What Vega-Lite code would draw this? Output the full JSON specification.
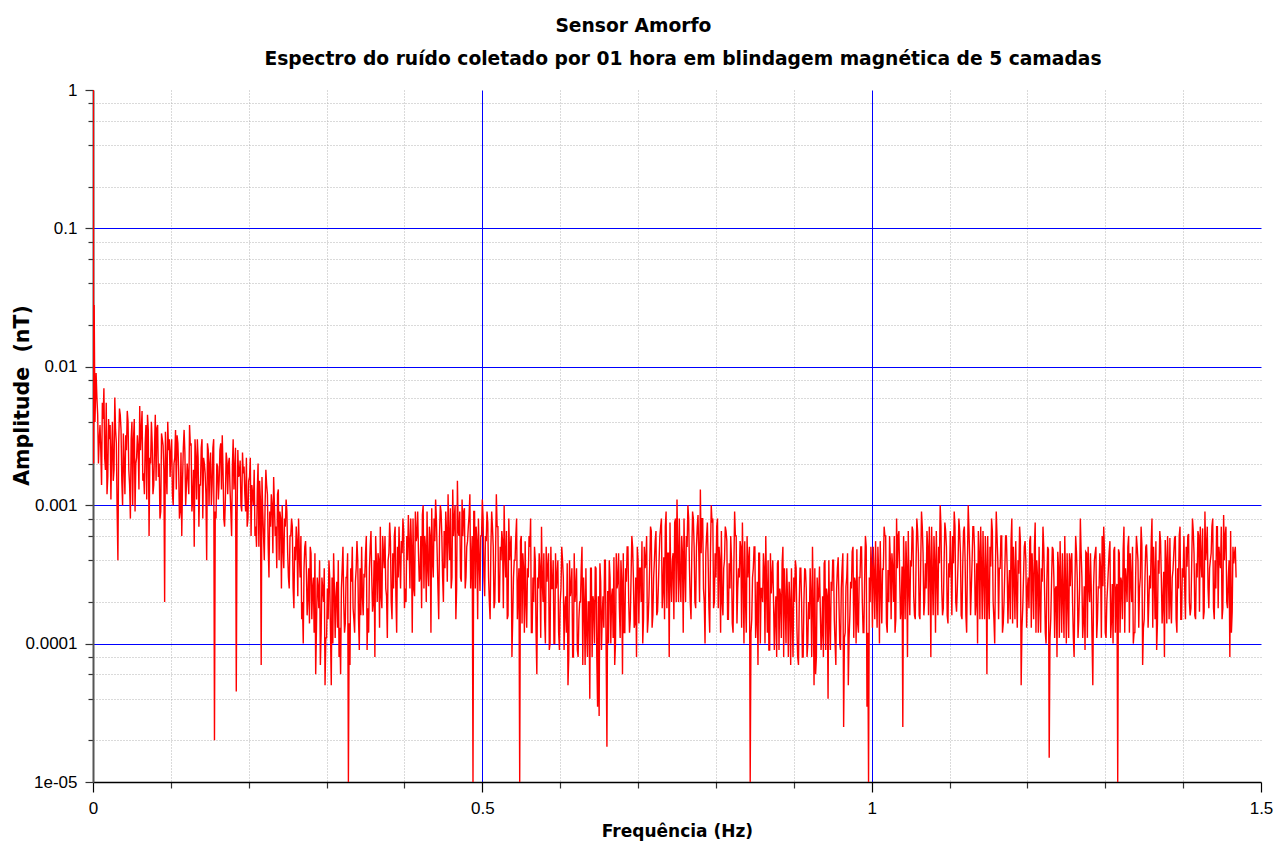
{
  "$schema": "https://vega.github.io/schema/vega-lite/v6.json",
  "width": 1168,
  "height": 692,
  "autosize": "none",
  "padding": {"left": 93, "top": 90, "right": 15, "bottom": 63},
  "background": "white",
  "config": {"view": {"stroke": null}},
  "title": {
    "text": "Sensor Amorfo\u00a0\u00a0\u00a0\u00a0\u00a0\u00a0\u00a0\u00a0\u00a0\u00a0\u00a0\u00a0\u00a0\u2800",
    "subtitle": "Espectro do ruído coletado por 01 hora em blindagem magnética de 5 camadas",
    "anchor": "middle",
    "frame": "group",
    "dx": 6,
    "offset": 12,
    "font": "DejaVu Sans",
    "fontSize": 18.7,
    "fontWeight": "bold",
    "color": "#000000",
    "subtitleFont": "DejaVu Sans",
    "subtitleFontSize": 18.7,
    "subtitleFontWeight": "bold",
    "subtitleColor": "#000000",
    "subtitlePadding": 15
  },
  "data": {"values": [
    {"f":0.0004,"a":1.0},{"f":0.0008,"a":0.002},{"f":0.0015,"a":0.028},{"f":0.0025,"a":0.004},
    {"f":0.004,"a":90e-4},{"f":0.008,"a":30e-4},{"f":0.012,"a":55e-4},{"f":0.016,"a":18e-4},{"f":0.02,"a":42e-4},{"f":0.024,"a":25e-4},{"f":0.028,"a":60e-4},{"f":0.032,"a":4e-4},{"f":0.036,"a":35e-4},{"f":0.04,"a":20e-4},{"f":0.044,"a":48e-4},{"f":0.048,"a":8e-4},{"f":0.052,"a":30e-4},{"f":0.056,"a":22e-4},{"f":0.06,"a":52e-4},{"f":0.064,"a":15e-4},{"f":0.068,"a":38e-4},{"f":0.072,"a":6e-4},{"f":0.076,"a":28e-4},{"f":0.08,"a":45e-4},{"f":0.084,"a":16e-4},{"f":0.088,"a":33e-4},{"f":0.092,"a":2e-4},{"f":0.096,"a":40e-4},{"f":0.1,"a":24e-4},
    {"f":0.104,"a":20e-4},{"f":0.108,"a":32e-4},{"f":0.112,"a":9e-4},{"f":0.116,"a":26e-4},{"f":0.12,"a":14e-4},{"f":0.124,"a":38e-4},{"f":0.128,"a":11e-4},{"f":0.132,"a":22e-4},{"f":0.136,"a":7e-4},{"f":0.14,"a":30e-4},{"f":0.144,"a":17e-4},{"f":0.148,"a":25e-4},{"f":0.152,"a":10e-4},{"f":0.156,"a":0.2e-4},{"f":0.16,"a":19e-4},{"f":0.164,"a":28e-4},{"f":0.168,"a":8e-4},{"f":0.172,"a":21e-4},{"f":0.176,"a":13e-4},{"f":0.18,"a":30e-4},{"f":0.184,"a":0.45e-4},{"f":0.188,"a":17e-4},{"f":0.192,"a":24e-4},{"f":0.196,"a":9e-4},{"f":0.2,"a":15e-4},
    {"f":0.204,"a":14e-4},{"f":0.208,"a":6e-4},{"f":0.212,"a":20e-4},{"f":0.216,"a":0.7e-4},{"f":0.22,"a":4e-4},{"f":0.224,"a":12e-4},{"f":0.228,"a":7e-4},{"f":0.232,"a":16e-4},{"f":0.236,"a":3.5e-4},{"f":0.24,"a":9e-4},{"f":0.244,"a":5e-4},{"f":0.248,"a":11e-4},{"f":0.252,"a":2.5e-4},{"f":0.256,"a":7e-4},{"f":0.26,"a":4e-4},{"f":0.264,"a":8e-4},{"f":0.268,"a":1.5e-4},{"f":0.272,"a":5e-4},{"f":0.276,"a":2.2e-4},{"f":0.28,"a":4.5e-4},{"f":0.284,"a":1.2e-4},{"f":0.288,"a":3e-4},{"f":0.292,"a":0.7e-4},{"f":0.296,"a":2e-4},{"f":0.3,"a":1.1e-4},
    {"f":0.304,"a":3e-4},{"f":0.308,"a":1.0e-4},{"f":0.312,"a":2.2e-4},{"f":0.316,"a":0.8e-4},{"f":0.32,"a":3.5e-4},{"f":0.324,"a":1.4e-4},{"f":0.328,"a":0.1e-4},{"f":0.332,"a":2.8e-4},{"f":0.336,"a":1.2e-4},{"f":0.34,"a":4e-4},{"f":0.344,"a":1.6e-4},{"f":0.348,"a":3.2e-4},{"f":0.352,"a":0.9e-4},{"f":0.356,"a":5e-4},{"f":0.36,"a":2e-4},{"f":0.364,"a":3.8e-4},{"f":0.368,"a":1.3e-4},{"f":0.372,"a":6e-4},{"f":0.376,"a":2.5e-4},{"f":0.38,"a":4.5e-4},{"f":0.384,"a":1.5e-4},{"f":0.388,"a":7e-4},{"f":0.392,"a":3e-4},{"f":0.396,"a":5.5e-4},{"f":0.4,"a":1.8e-4},
    {"f":0.404,"a":4e-4},{"f":0.408,"a":8e-4},{"f":0.412,"a":2.5e-4},{"f":0.416,"a":6e-4},{"f":0.42,"a":3e-4},{"f":0.424,"a":10e-4},{"f":0.428,"a":2e-4},{"f":0.432,"a":7e-4},{"f":0.436,"a":4e-4},{"f":0.44,"a":11e-4},{"f":0.444,"a":1.5e-4},{"f":0.448,"a":6e-4},{"f":0.452,"a":3.5e-4},{"f":0.456,"a":12e-4},{"f":0.46,"a":2.5e-4},{"f":0.464,"a":8e-4},{"f":0.468,"a":15e-4},{"f":0.472,"a":3e-4},{"f":0.476,"a":9e-4},{"f":0.48,"a":5e-4},{"f":0.484,"a":12e-4},{"f":0.488,"a":0.1e-4},{"f":0.492,"a":7e-4},{"f":0.496,"a":4e-4},{"f":0.5,"a":11e-4},
    {"f":0.504,"a":6e-4},{"f":0.508,"a":3e-4},{"f":0.512,"a":9e-4},{"f":0.516,"a":2e-4},{"f":0.52,"a":7e-4},{"f":0.524,"a":4e-4},{"f":0.528,"a":10e-4},{"f":0.532,"a":1.5e-4},{"f":0.536,"a":5e-4},{"f":0.54,"a":3e-4},{"f":0.544,"a":8e-4},{"f":0.548,"a":0.1e-4},{"f":0.552,"a":4.5e-4},{"f":0.556,"a":2e-4},{"f":0.56,"a":6e-4},{"f":0.564,"a":1.2e-4},{"f":0.568,"a":4e-4},{"f":0.572,"a":2.5e-4},{"f":0.576,"a":7e-4},{"f":0.58,"a":1.5e-4},{"f":0.584,"a":3.5e-4},{"f":0.588,"a":5e-4},{"f":0.592,"a":1e-4},{"f":0.596,"a":3e-4},{"f":0.6,"a":2e-4},
    {"f":0.604,"a":3e-4},{"f":0.608,"a":1.2e-4},{"f":0.612,"a":4e-4},{"f":0.616,"a":0.8e-4},{"f":0.62,"a":2.5e-4},{"f":0.624,"a":1.5e-4},{"f":0.628,"a":5e-4},{"f":0.632,"a":0.7e-4},{"f":0.636,"a":2e-4},{"f":0.64,"a":3.5e-4},{"f":0.644,"a":1e-4},{"f":0.648,"a":0.35e-4},{"f":0.652,"a":2.8e-4},{"f":0.656,"a":1.3e-4},{"f":0.66,"a":0.18e-4},{"f":0.664,"a":3e-4},{"f":0.668,"a":1.1e-4},{"f":0.672,"a":4.5e-4},{"f":0.676,"a":1.8e-4},{"f":0.68,"a":0.6e-4},{"f":0.684,"a":3.5e-4},{"f":0.688,"a":2e-4},{"f":0.692,"a":6e-4},{"f":0.696,"a":1.4e-4},{"f":0.7,"a":4e-4},
    {"f":0.704,"a":2e-4},{"f":0.708,"a":5e-4},{"f":0.712,"a":1.2e-4},{"f":0.716,"a":7e-4},{"f":0.72,"a":3e-4},{"f":0.724,"a":1.6e-4},{"f":0.728,"a":6e-4},{"f":0.732,"a":2.5e-4},{"f":0.736,"a":9e-4},{"f":0.74,"a":0.8e-4},{"f":0.744,"a":4e-4},{"f":0.748,"a":8e-4},{"f":0.752,"a":2e-4},{"f":0.756,"a":6e-4},{"f":0.76,"a":3.5e-4},{"f":0.764,"a":10e-4},{"f":0.768,"a":1.5e-4},{"f":0.772,"a":5e-4},{"f":0.776,"a":7e-4},{"f":0.78,"a":13e-4},{"f":0.784,"a":2.5e-4},{"f":0.788,"a":6e-4},{"f":0.792,"a":1.2e-4},{"f":0.796,"a":8e-4},{"f":0.8,"a":3e-4},
    {"f":0.804,"a":5e-4},{"f":0.808,"a":2e-4},{"f":0.812,"a":7e-4},{"f":0.816,"a":1.5e-4},{"f":0.82,"a":4e-4},{"f":0.824,"a":9e-4},{"f":0.828,"a":2.5e-4},{"f":0.832,"a":5e-4},{"f":0.836,"a":1e-4},{"f":0.84,"a":6e-4},{"f":0.844,"a":0.1e-4},{"f":0.848,"a":3.5e-4},{"f":0.852,"a":1.5e-4},{"f":0.856,"a":4.5e-4},{"f":0.86,"a":2e-4},{"f":0.864,"a":6e-4},{"f":0.868,"a":0.9e-4},{"f":0.872,"a":3e-4},{"f":0.876,"a":1.6e-4},{"f":0.88,"a":4e-4},{"f":0.884,"a":1.1e-4},{"f":0.888,"a":3.5e-4},{"f":0.892,"a":2e-4},{"f":0.896,"a":0.7e-4},{"f":0.9,"a":3e-4},
    {"f":0.904,"a":1.3e-4},{"f":0.908,"a":3.5e-4},{"f":0.912,"a":0.8e-4},{"f":0.916,"a":2.5e-4},{"f":0.92,"a":1.5e-4},{"f":0.924,"a":5e-4},{"f":0.928,"a":0.6e-4},{"f":0.932,"a":2.2e-4},{"f":0.936,"a":1.2e-4},{"f":0.94,"a":4e-4},{"f":0.944,"a":0.4e-4},{"f":0.948,"a":2.8e-4},{"f":0.952,"a":1.5e-4},{"f":0.956,"a":3.5e-4},{"f":0.96,"a":0.9e-4},{"f":0.964,"a":0.25e-4},{"f":0.968,"a":3e-4},{"f":0.972,"a":1.6e-4},{"f":0.976,"a":5e-4},{"f":0.98,"a":1e-4},{"f":0.984,"a":3e-4},{"f":0.988,"a":2e-4},{"f":0.992,"a":6e-4},{"f":0.996,"a":0.1e-4},{"f":1.0,"a":3.5e-4},
    {"f":1.004,"a":1.5e-4},{"f":1.008,"a":5e-4},{"f":1.012,"a":2.5e-4},{"f":1.016,"a":7e-4},{"f":1.02,"a":1.2e-4},{"f":1.024,"a":4e-4},{"f":1.028,"a":2e-4},{"f":1.032,"a":8e-4},{"f":1.036,"a":3e-4},{"f":1.04,"a":0.25e-4},{"f":1.044,"a":5.5e-4},{"f":1.048,"a":2.5e-4},{"f":1.052,"a":7e-4},{"f":1.056,"a":1.5e-4},{"f":1.06,"a":4.5e-4},{"f":1.064,"a":9e-4},{"f":1.068,"a":2e-4},{"f":1.072,"a":5e-4},{"f":1.076,"a":0.8e-4},{"f":1.08,"a":6e-4},{"f":1.084,"a":3e-4},{"f":1.088,"a":10e-4},{"f":1.092,"a":1.8e-4},{"f":1.096,"a":5e-4},{"f":1.1,"a":3e-4},
    {"f":1.104,"a":6e-4},{"f":1.108,"a":2e-4},{"f":1.112,"a":8e-4},{"f":1.116,"a":1.5e-4},{"f":1.12,"a":4e-4},{"f":1.124,"a":10e-4},{"f":1.128,"a":2.5e-4},{"f":1.132,"a":5e-4},{"f":1.136,"a":1e-4},{"f":1.14,"a":7e-4},{"f":1.144,"a":3e-4},{"f":1.148,"a":0.6e-4},{"f":1.152,"a":5e-4},{"f":1.156,"a":2e-4},{"f":1.16,"a":9e-4},{"f":1.164,"a":3.5e-4},{"f":1.168,"a":1.2e-4},{"f":1.172,"a":6e-4},{"f":1.176,"a":2.5e-4},{"f":1.18,"a":8e-4},{"f":1.184,"a":1.5e-4},{"f":1.188,"a":4e-4},{"f":1.192,"a":0.5e-4},{"f":1.196,"a":5e-4},{"f":1.2,"a":2.5e-4},
    {"f":1.204,"a":6e-4},{"f":1.208,"a":1.5e-4},{"f":1.212,"a":4e-4},{"f":1.216,"a":2e-4},{"f":1.22,"a":7e-4},{"f":1.224,"a":1e-4},{"f":1.228,"a":0.15e-4},{"f":1.232,"a":5e-4},{"f":1.236,"a":2.5e-4},{"f":1.24,"a":3.5e-4},{"f":1.244,"a":1.2e-4},{"f":1.248,"a":6e-4},{"f":1.252,"a":2e-4},{"f":1.256,"a":4e-4},{"f":1.26,"a":0.8e-4},{"f":1.264,"a":3e-4},{"f":1.268,"a":8e-4},{"f":1.272,"a":1.5e-4},{"f":1.276,"a":4.5e-4},{"f":1.28,"a":2e-4},{"f":1.284,"a":0.5e-4},{"f":1.288,"a":5e-4},{"f":1.292,"a":2.5e-4},{"f":1.296,"a":6e-4},{"f":1.3,"a":1.2e-4},
    {"f":1.304,"a":3.5e-4},{"f":1.308,"a":1.5e-4},{"f":1.312,"a":5e-4},{"f":1.316,"a":0.1e-4},{"f":1.32,"a":3e-4},{"f":1.324,"a":7e-4},{"f":1.328,"a":2e-4},{"f":1.332,"a":4.5e-4},{"f":1.336,"a":1e-4},{"f":1.34,"a":6e-4},{"f":1.344,"a":2.5e-4},{"f":1.348,"a":0.7e-4},{"f":1.352,"a":5e-4},{"f":1.356,"a":2e-4},{"f":1.36,"a":8e-4},{"f":1.364,"a":1.5e-4},{"f":1.368,"a":4e-4},{"f":1.372,"a":3e-4},{"f":1.376,"a":0.8e-4},{"f":1.38,"a":6e-4},{"f":1.384,"a":2e-4},{"f":1.388,"a":4.5e-4},{"f":1.392,"a":1.2e-4},{"f":1.396,"a":7e-4},{"f":1.4,"a":3e-4},
    {"f":1.404,"a":5e-4},{"f":1.408,"a":2e-4},{"f":1.412,"a":8e-4},{"f":1.416,"a":1.5e-4},{"f":1.42,"a":6e-4},{"f":1.424,"a":3e-4},{"f":1.428,"a":9e-4},{"f":1.432,"a":2.5e-4},{"f":1.436,"a":4.5e-4},{"f":1.44,"a":1.5e-4},{"f":1.444,"a":7e-4},{"f":1.448,"a":3.5e-4},{"f":1.452,"a":8.5e-4},{"f":1.456,"a":2e-4},{"f":1.46,"a":0.8e-4},{"f":1.464,"a":5e-4},{"f":1.468,"a":3e-4},
    {"f":0.006,"a":45e-4},{"f":0.01,"a":25e-4},{"f":0.014,"a":70e-4},{"f":0.018,"a":12e-4},{"f":0.022,"a":38e-4},{"f":0.026,"a":15e-4},{"f":0.03,"a":28e-4},{"f":0.034,"a":50e-4},{"f":0.038,"a":10e-4},{"f":0.042,"a":32e-4},{"f":0.046,"a":18e-4},{"f":0.05,"a":40e-4},{"f":0.054,"a":9e-4},{"f":0.058,"a":26e-4},{"f":0.062,"a":35e-4},{"f":0.066,"a":12e-4},{"f":0.07,"a":45e-4},{"f":0.074,"a":20e-4},{"f":0.078,"a":14e-4},{"f":0.082,"a":36e-4},{"f":0.086,"a":8e-4},{"f":0.09,"a":27e-4},{"f":0.094,"a":18e-4},{"f":0.098,"a":30e-4},
    {"f":0.102,"a":12e-4},{"f":0.106,"a":35e-4},{"f":0.11,"a":18e-4},{"f":0.114,"a":6e-4},{"f":0.118,"a":24e-4},{"f":0.122,"a":16e-4},{"f":0.126,"a":28e-4},{"f":0.13,"a":5e-4},{"f":0.134,"a":30e-4},{"f":0.138,"a":14e-4},{"f":0.142,"a":22e-4},{"f":0.146,"a":4e-4},{"f":0.15,"a":20e-4},{"f":0.154,"a":26e-4},{"f":0.158,"a":8e-4},{"f":0.162,"a":15e-4},{"f":0.166,"a":32e-4},{"f":0.17,"a":11e-4},{"f":0.174,"a":20e-4},{"f":0.178,"a":6e-4},{"f":0.182,"a":18e-4},{"f":0.186,"a":25e-4},{"f":0.19,"a":10e-4},{"f":0.194,"a":19e-4},{"f":0.198,"a":7e-4},
    {"f":0.202,"a":22e-4},{"f":0.206,"a":10e-4},{"f":0.21,"a":5e-4},{"f":0.214,"a":15e-4},{"f":0.218,"a":9e-4},{"f":0.222,"a":18e-4},{"f":0.226,"a":3e-4},{"f":0.23,"a":10e-4},{"f":0.234,"a":6e-4},{"f":0.238,"a":13e-4},{"f":0.242,"a":2.5e-4},{"f":0.246,"a":8e-4},{"f":0.25,"a":4.5e-4},{"f":0.254,"a":6e-4},{"f":0.258,"a":1.8e-4},{"f":0.262,"a":5.5e-4},{"f":0.266,"a":3e-4},{"f":0.27,"a":1e-4},{"f":0.274,"a":3.5e-4},{"f":0.278,"a":1.4e-4},{"f":0.282,"a":2.5e-4},{"f":0.286,"a":0.6e-4},{"f":0.29,"a":1.8e-4},{"f":0.294,"a":3e-4},{"f":0.298,"a":0.5e-4},
    {"f":0.302,"a":1.5e-4},{"f":0.306,"a":0.5e-4},{"f":0.31,"a":2.5e-4},{"f":0.314,"a":1.3e-4},{"f":0.318,"a":0.6e-4},{"f":0.322,"a":2e-4},{"f":0.326,"a":3e-4},{"f":0.33,"a":0.7e-4},{"f":0.334,"a":1.8e-4},{"f":0.338,"a":3.5e-4},{"f":0.342,"a":0.9e-4},{"f":0.346,"a":2.2e-4},{"f":0.35,"a":4.5e-4},{"f":0.354,"a":1.2e-4},{"f":0.358,"a":3e-4},{"f":0.362,"a":0.8e-4},{"f":0.366,"a":4.5e-4},{"f":0.37,"a":2.2e-4},{"f":0.374,"a":3.5e-4},{"f":0.378,"a":1.1e-4},{"f":0.382,"a":5.5e-4},{"f":0.386,"a":2.5e-4},{"f":0.39,"a":1.2e-4},{"f":0.394,"a":4e-4},{"f":0.398,"a":8e-4},
    {"f":0.402,"a":2e-4},{"f":0.406,"a":5.5e-4},{"f":0.41,"a":1.2e-4},{"f":0.414,"a":9e-4},{"f":0.418,"a":4.5e-4},{"f":0.422,"a":1.8e-4},{"f":0.426,"a":6e-4},{"f":0.43,"a":3.5e-4},{"f":0.434,"a":1.2e-4},{"f":0.438,"a":8e-4},{"f":0.442,"a":4.5e-4},{"f":0.446,"a":10e-4},{"f":0.45,"a":2e-4},{"f":0.454,"a":6.5e-4},{"f":0.458,"a":4e-4},{"f":0.462,"a":13e-4},{"f":0.466,"a":1.5e-4},{"f":0.47,"a":6e-4},{"f":0.474,"a":11e-4},{"f":0.478,"a":2.5e-4},{"f":0.482,"a":7e-4},{"f":0.486,"a":4e-4},{"f":0.49,"a":9e-4},{"f":0.494,"a":1.5e-4},{"f":0.498,"a":6e-4},
    {"f":0.502,"a":3e-4},{"f":0.506,"a":9e-4},{"f":0.51,"a":1.5e-4},{"f":0.514,"a":5e-4},{"f":0.518,"a":12e-4},{"f":0.522,"a":2e-4},{"f":0.526,"a":5.5e-4},{"f":0.53,"a":3e-4},{"f":0.534,"a":8e-4},{"f":0.538,"a":0.8e-4},{"f":0.542,"a":4e-4},{"f":0.546,"a":2.5e-4},{"f":0.55,"a":6e-4},{"f":0.554,"a":1.2e-4},{"f":0.558,"a":3.5e-4},{"f":0.562,"a":8e-4},{"f":0.566,"a":2e-4},{"f":0.57,"a":0.6e-4},{"f":0.574,"a":3.5e-4},{"f":0.578,"a":2e-4},{"f":0.582,"a":5e-4},{"f":0.586,"a":0.9e-4},{"f":0.59,"a":2.5e-4},{"f":0.594,"a":4.5e-4},{"f":0.598,"a":1.2e-4},
    {"f":0.602,"a":5e-4},{"f":0.606,"a":1.8e-4},{"f":0.61,"a":0.5e-4},{"f":0.614,"a":2.5e-4},{"f":0.618,"a":4.5e-4},{"f":0.622,"a":0.9e-4},{"f":0.626,"a":2e-4},{"f":0.63,"a":3e-4},{"f":0.634,"a":1.2e-4},{"f":0.638,"a":0.4e-4},{"f":0.642,"a":2.2e-4},{"f":0.646,"a":3.5e-4},{"f":0.65,"a":0.3e-4},{"f":0.654,"a":1.6e-4},{"f":0.658,"a":4e-4},{"f":0.662,"a":1e-4},{"f":0.666,"a":2.2e-4},{"f":0.67,"a":0.7e-4},{"f":0.674,"a":2.8e-4},{"f":0.678,"a":4e-4},{"f":0.682,"a":1.2e-4},{"f":0.686,"a":5e-4},{"f":0.69,"a":1.5e-4},{"f":0.694,"a":3e-4},{"f":0.698,"a":0.8e-4},
    {"f":0.702,"a":3.5e-4},{"f":0.706,"a":1e-4},{"f":0.71,"a":4e-4},{"f":0.714,"a":2.2e-4},{"f":0.718,"a":1.3e-4},{"f":0.722,"a":5.5e-4},{"f":0.726,"a":2.5e-4},{"f":0.73,"a":8e-4},{"f":0.734,"a":1.5e-4},{"f":0.738,"a":4.5e-4},{"f":0.742,"a":3e-4},{"f":0.746,"a":1.5e-4},{"f":0.75,"a":11e-4},{"f":0.754,"a":3e-4},{"f":0.758,"a":1.2e-4},{"f":0.762,"a":6e-4},{"f":0.766,"a":3.5e-4},{"f":0.77,"a":9e-4},{"f":0.774,"a":1.8e-4},{"f":0.778,"a":4.5e-4},{"f":0.782,"a":8e-4},{"f":0.786,"a":1e-4},{"f":0.79,"a":4e-4},{"f":0.794,"a":10e-4},{"f":0.798,"a":2e-4},
    {"f":0.802,"a":8e-4},{"f":0.806,"a":1.2e-4},{"f":0.81,"a":3.5e-4},{"f":0.814,"a":5.5e-4},{"f":0.818,"a":2.5e-4},{"f":0.822,"a":1.2e-4},{"f":0.826,"a":6e-4},{"f":0.83,"a":3e-4},{"f":0.834,"a":7.5e-4},{"f":0.838,"a":2e-4},{"f":0.842,"a":4e-4},{"f":0.846,"a":1.5e-4},{"f":0.85,"a":5e-4},{"f":0.854,"a":0.7e-4},{"f":0.858,"a":2.5e-4},{"f":0.862,"a":3.5e-4},{"f":0.866,"a":1.2e-4},{"f":0.87,"a":4.5e-4},{"f":0.874,"a":2e-4},{"f":0.878,"a":0.8e-4},{"f":0.882,"a":2.5e-4},{"f":0.886,"a":5e-4},{"f":0.89,"a":1e-4},{"f":0.894,"a":2.8e-4},{"f":0.898,"a":1.5e-4},
    {"f":0.902,"a":4e-4},{"f":0.906,"a":0.7e-4},{"f":0.91,"a":2e-4},{"f":0.914,"a":3.5e-4},{"f":0.918,"a":1e-4},{"f":0.922,"a":2.2e-4},{"f":0.926,"a":0.5e-4},{"f":0.93,"a":3e-4},{"f":0.934,"a":1.8e-4},{"f":0.938,"a":0.8e-4},{"f":0.942,"a":2.5e-4},{"f":0.946,"a":1.5e-4},{"f":0.95,"a":4e-4},{"f":0.954,"a":0.7e-4},{"f":0.958,"a":2e-4},{"f":0.962,"a":3.5e-4},{"f":0.966,"a":1.2e-4},{"f":0.97,"a":0.5e-4},{"f":0.974,"a":2.5e-4},{"f":0.978,"a":3e-4},{"f":0.982,"a":1.4e-4},{"f":0.986,"a":5e-4},{"f":0.99,"a":1.2e-4},{"f":0.994,"a":0.35e-4},{"f":0.998,"a":2e-4},
    {"f":1.002,"a":5e-4},{"f":1.006,"a":2.5e-4},{"f":1.01,"a":1e-4},{"f":1.014,"a":3.5e-4},{"f":1.018,"a":6e-4},{"f":1.022,"a":2e-4},{"f":1.026,"a":4.5e-4},{"f":1.03,"a":1.2e-4},{"f":1.034,"a":6e-4},{"f":1.038,"a":1.8e-4},{"f":1.042,"a":3e-4},{"f":1.046,"a":0.8e-4},{"f":1.05,"a":4e-4},{"f":1.054,"a":2.2e-4},{"f":1.058,"a":8e-4},{"f":1.062,"a":1.5e-4},{"f":1.066,"a":4.5e-4},{"f":1.07,"a":2.5e-4},{"f":1.074,"a":7e-4},{"f":1.078,"a":3e-4},{"f":1.082,"a":1.2e-4},{"f":1.086,"a":5e-4},{"f":1.09,"a":2.5e-4},{"f":1.094,"a":7.5e-4},{"f":1.098,"a":1.4e-4},
    {"f":1.102,"a":3.5e-4},{"f":1.106,"a":9e-4},{"f":1.11,"a":2.5e-4},{"f":1.114,"a":4.5e-4},{"f":1.118,"a":6.5e-4},{"f":1.122,"a":1.2e-4},{"f":1.126,"a":4e-4},{"f":1.13,"a":7e-4},{"f":1.134,"a":2e-4},{"f":1.138,"a":4.5e-4},{"f":1.142,"a":1.5e-4},{"f":1.146,"a":6e-4},{"f":1.15,"a":2.2e-4},{"f":1.154,"a":8e-4},{"f":1.158,"a":1e-4},{"f":1.162,"a":4e-4},{"f":1.166,"a":6e-4},{"f":1.17,"a":2e-4},{"f":1.174,"a":3.5e-4},{"f":1.178,"a":1.5e-4},{"f":1.182,"a":5e-4},{"f":1.186,"a":2.5e-4},{"f":1.19,"a":7e-4},{"f":1.194,"a":1.8e-4},{"f":1.198,"a":4e-4},
    {"f":1.202,"a":1.8e-4},{"f":1.206,"a":4.5e-4},{"f":1.21,"a":7.5e-4},{"f":1.214,"a":1.2e-4},{"f":1.218,"a":3.5e-4},{"f":1.222,"a":2.5e-4},{"f":1.226,"a":5e-4},{"f":1.23,"a":1.5e-4},{"f":1.234,"a":3e-4},{"f":1.238,"a":0.8e-4},{"f":1.242,"a":5.5e-4},{"f":1.246,"a":2.2e-4},{"f":1.25,"a":1e-4},{"f":1.254,"a":4.5e-4},{"f":1.258,"a":2e-4},{"f":1.262,"a":6e-4},{"f":1.266,"a":1.5e-4},{"f":1.27,"a":3e-4},{"f":1.274,"a":0.9e-4},{"f":1.278,"a":5e-4},{"f":1.282,"a":2.5e-4},{"f":1.286,"a":4e-4},{"f":1.29,"a":1.5e-4},{"f":1.294,"a":3.5e-4},{"f":1.298,"a":7e-4},
    {"f":1.302,"a":2e-4},{"f":1.306,"a":5.5e-4},{"f":1.31,"a":1e-4},{"f":1.314,"a":2.5e-4},{"f":1.318,"a":4.5e-4},{"f":1.322,"a":1.5e-4},{"f":1.326,"a":3.5e-4},{"f":1.33,"a":6e-4},{"f":1.334,"a":2e-4},{"f":1.338,"a":1.2e-4},{"f":1.342,"a":4e-4},{"f":1.346,"a":7e-4},{"f":1.35,"a":1.5e-4},{"f":1.354,"a":3.5e-4},{"f":1.358,"a":2.5e-4},{"f":1.362,"a":5e-4},{"f":1.366,"a":0.9e-4},{"f":1.37,"a":6.5e-4},{"f":1.374,"a":2e-4},{"f":1.378,"a":4e-4},{"f":1.382,"a":1.5e-4},{"f":1.386,"a":3e-4},{"f":1.39,"a":6e-4},{"f":1.394,"a":2.5e-4},{"f":1.398,"a":1.5e-4},
    {"f":1.402,"a":2.5e-4},{"f":1.406,"a":6e-4},{"f":1.41,"a":1.8e-4},{"f":1.414,"a":4.5e-4},{"f":1.418,"a":3e-4},{"f":1.422,"a":7e-4},{"f":1.426,"a":1.5e-4},{"f":1.43,"a":5e-4},{"f":1.434,"a":3.5e-4},{"f":1.438,"a":8e-4},{"f":1.442,"a":2.5e-4},{"f":1.446,"a":5e-4},{"f":1.45,"a":1.5e-4},{"f":1.454,"a":6e-4},{"f":1.458,"a":3e-4},{"f":1.462,"a":1.2e-4},{"f":1.466,"a":4.5e-4},
    {"f":0.005,"a":60e-4},{"f":0.007,"a":20e-4},{"f":0.009,"a":38e-4},{"f":0.011,"a":14e-4},{"f":0.013,"a":42e-4},{"f":0.015,"a":22e-4},{"f":0.017,"a":55e-4},{"f":0.019,"a":16e-4},{"f":0.021,"a":30e-4},{"f":0.023,"a":11e-4},{"f":0.025,"a":40e-4},{"f":0.027,"a":18e-4},{"f":0.029,"a":35e-4},{"f":0.031,"a":9e-4},{"f":0.033,"a":28e-4},{"f":0.035,"a":45e-4},{"f":0.037,"a":15e-4},{"f":0.039,"a":33e-4},{"f":0.041,"a":12e-4},{"f":0.043,"a":25e-4},{"f":0.045,"a":40e-4},{"f":0.047,"a":14e-4},{"f":0.049,"a":30e-4},{"f":0.051,"a":10e-4},{"f":0.053,"a":42e-4},{"f":0.055,"a":20e-4},{"f":0.057,"a":32e-4},{"f":0.059,"a":13e-4},{"f":0.061,"a":25e-4},{"f":0.063,"a":48e-4},{"f":0.065,"a":17e-4},{"f":0.067,"a":28e-4},{"f":0.069,"a":11e-4},{"f":0.071,"a":35e-4},{"f":0.073,"a":22e-4},{"f":0.075,"a":40e-4},{"f":0.077,"a":12e-4},{"f":0.079,"a":26e-4},{"f":0.081,"a":15e-4},{"f":0.083,"a":38e-4},{"f":0.085,"a":20e-4},{"f":0.087,"a":9e-4},{"f":0.089,"a":30e-4},{"f":0.091,"a":18e-4},{"f":0.093,"a":34e-4},{"f":0.095,"a":12e-4},{"f":0.097,"a":25e-4},{"f":0.099,"a":16e-4},
    {"f":0.101,"a":30e-4},{"f":0.103,"a":10e-4},{"f":0.105,"a":22e-4},{"f":0.107,"a":13e-4},{"f":0.109,"a":28e-4},{"f":0.111,"a":8e-4},{"f":0.113,"a":24e-4},{"f":0.115,"a":15e-4},{"f":0.117,"a":35e-4},{"f":0.119,"a":10e-4},{"f":0.121,"a":20e-4},{"f":0.123,"a":12e-4},{"f":0.125,"a":27e-4},{"f":0.127,"a":9e-4},{"f":0.129,"a":18e-4},{"f":0.131,"a":30e-4},{"f":0.133,"a":11e-4},{"f":0.135,"a":22e-4},{"f":0.137,"a":14e-4},{"f":0.139,"a":26e-4},{"f":0.141,"a":8e-4},{"f":0.143,"a":20e-4},{"f":0.145,"a":12e-4},{"f":0.147,"a":28e-4},{"f":0.149,"a":10e-4},{"f":0.151,"a":24e-4},{"f":0.153,"a":14e-4},{"f":0.155,"a":30e-4},{"f":0.157,"a":9e-4},{"f":0.159,"a":20e-4},{"f":0.161,"a":11e-4},{"f":0.163,"a":25e-4},{"f":0.165,"a":13e-4},{"f":0.167,"a":18e-4},{"f":0.169,"a":7e-4},{"f":0.171,"a":24e-4},{"f":0.173,"a":12e-4},{"f":0.175,"a":22e-4},{"f":0.177,"a":9e-4},{"f":0.179,"a":19e-4},{"f":0.181,"a":13e-4},{"f":0.183,"a":26e-4},{"f":0.185,"a":8e-4},{"f":0.187,"a":16e-4},{"f":0.189,"a":21e-4},{"f":0.191,"a":9e-4},{"f":0.193,"a":17e-4},{"f":0.195,"a":12e-4},{"f":0.197,"a":22e-4},{"f":0.199,"a":8e-4},
    {"f":0.201,"a":16e-4},{"f":0.203,"a":6e-4},{"f":0.205,"a":12e-4},{"f":0.207,"a":18e-4},{"f":0.209,"a":7e-4},{"f":0.211,"a":13e-4},{"f":0.213,"a":5e-4},{"f":0.215,"a":11e-4},{"f":0.217,"a":16e-4},{"f":0.219,"a":6e-4},{"f":0.221,"a":10e-4},{"f":0.223,"a":14e-4},{"f":0.225,"a":5e-4},{"f":0.227,"a":9e-4},{"f":0.229,"a":12e-4},{"f":0.231,"a":4.5e-4},{"f":0.233,"a":10e-4},{"f":0.235,"a":7e-4},{"f":0.237,"a":12e-4},{"f":0.239,"a":4e-4},{"f":0.241,"a":8e-4},{"f":0.243,"a":10e-4},{"f":0.245,"a":3.5e-4},{"f":0.247,"a":7e-4},{"f":0.249,"a":9e-4},{"f":0.251,"a":3e-4},{"f":0.253,"a":6e-4},{"f":0.255,"a":8e-4},{"f":0.257,"a":2.5e-4},{"f":0.259,"a":5e-4},{"f":0.261,"a":7e-4},{"f":0.263,"a":2.2e-4},{"f":0.265,"a":4.5e-4},{"f":0.267,"a":6e-4},{"f":0.269,"a":2e-4},{"f":0.271,"a":3.5e-4},{"f":0.273,"a":5.5e-4},{"f":0.275,"a":1.6e-4},{"f":0.277,"a":3.5e-4},{"f":0.279,"a":5e-4},{"f":0.281,"a":1.5e-4},{"f":0.283,"a":3e-4},{"f":0.285,"a":4.5e-4},{"f":0.287,"a":1.3e-4},{"f":0.289,"a":2.5e-4},{"f":0.291,"a":4e-4},{"f":0.293,"a":1.2e-4},{"f":0.295,"a":2.5e-4},{"f":0.297,"a":3.5e-4},{"f":0.299,"a":1.1e-4},
    {"f":0.301,"a":2.5e-4},{"f":0.303,"a":4e-4},{"f":0.305,"a":1.2e-4},{"f":0.307,"a":3e-4},{"f":0.309,"a":4.5e-4},{"f":0.311,"a":1.1e-4},{"f":0.313,"a":2.8e-4},{"f":0.315,"a":4e-4},{"f":0.317,"a":1.3e-4},{"f":0.319,"a":2.5e-4},{"f":0.321,"a":5e-4},{"f":0.323,"a":1.2e-4},{"f":0.325,"a":3e-4},{"f":0.327,"a":4.5e-4},{"f":0.329,"a":1.4e-4},{"f":0.331,"a":3.5e-4},{"f":0.333,"a":5e-4},{"f":0.335,"a":1.5e-4},{"f":0.337,"a":2.8e-4},{"f":0.339,"a":5.5e-4},{"f":0.341,"a":1.5e-4},{"f":0.343,"a":3.5e-4},{"f":0.345,"a":5e-4},{"f":0.347,"a":1.6e-4},{"f":0.349,"a":3e-4},{"f":0.351,"a":6e-4},{"f":0.353,"a":1.8e-4},{"f":0.355,"a":3.5e-4},{"f":0.357,"a":6.5e-4},{"f":0.359,"a":1.7e-4},{"f":0.361,"a":4e-4},{"f":0.363,"a":6e-4},{"f":0.365,"a":2e-4},{"f":0.367,"a":4e-4},{"f":0.369,"a":7e-4},{"f":0.371,"a":1.8e-4},{"f":0.373,"a":4.5e-4},{"f":0.375,"a":6e-4},{"f":0.377,"a":2.2e-4},{"f":0.379,"a":4e-4},{"f":0.381,"a":7.5e-4},{"f":0.383,"a":2e-4},{"f":0.385,"a":4.5e-4},{"f":0.387,"a":6e-4},{"f":0.389,"a":2.2e-4},{"f":0.391,"a":5e-4},{"f":0.393,"a":7e-4},{"f":0.395,"a":2.5e-4},{"f":0.397,"a":4.5e-4},{"f":0.399,"a":6.5e-4},
    {"f":0.401,"a":2.5e-4},{"f":0.403,"a":6e-4},{"f":0.405,"a":8.5e-4},{"f":0.407,"a":2.5e-4},{"f":0.409,"a":5e-4},{"f":0.411,"a":8e-4},{"f":0.413,"a":2.2e-4},{"f":0.415,"a":5.5e-4},{"f":0.417,"a":9e-4},{"f":0.419,"a":2.8e-4},{"f":0.421,"a":6e-4},{"f":0.423,"a":8.5e-4},{"f":0.425,"a":2.5e-4},{"f":0.427,"a":5e-4},{"f":0.429,"a":9e-4},{"f":0.431,"a":2.6e-4},{"f":0.433,"a":6e-4},{"f":0.435,"a":9.5e-4},{"f":0.437,"a":3e-4},{"f":0.439,"a":5.5e-4},{"f":0.441,"a":8e-4},{"f":0.443,"a":2.5e-4},{"f":0.445,"a":6e-4},{"f":0.447,"a":9e-4},{"f":0.449,"a":3e-4},{"f":0.451,"a":6.5e-4},{"f":0.453,"a":9e-4},{"f":0.455,"a":2.8e-4},{"f":0.457,"a":6e-4},{"f":0.459,"a":9.5e-4},{"f":0.461,"a":3e-4},{"f":0.463,"a":6e-4},{"f":0.465,"a":10e-4},{"f":0.467,"a":2.5e-4},{"f":0.469,"a":6.5e-4},{"f":0.471,"a":9e-4},{"f":0.473,"a":2.8e-4},{"f":0.475,"a":6e-4},{"f":0.477,"a":9.5e-4},{"f":0.479,"a":3e-4},{"f":0.481,"a":5.5e-4},{"f":0.483,"a":8.5e-4},{"f":0.485,"a":2.5e-4},{"f":0.487,"a":6e-4},{"f":0.489,"a":9e-4},{"f":0.491,"a":2.5e-4},{"f":0.493,"a":5.5e-4},{"f":0.495,"a":8e-4},{"f":0.497,"a":2.4e-4},{"f":0.499,"a":6e-4},
    {"f":0.501,"a":8e-4},{"f":0.503,"a":2.2e-4},{"f":0.505,"a":5.5e-4},{"f":0.507,"a":7.5e-4},{"f":0.509,"a":2e-4},{"f":0.511,"a":5e-4},{"f":0.513,"a":7e-4},{"f":0.515,"a":1.8e-4},{"f":0.517,"a":4.5e-4},{"f":0.519,"a":7e-4},{"f":0.521,"a":2e-4},{"f":0.523,"a":5e-4},{"f":0.525,"a":6.5e-4},{"f":0.527,"a":1.8e-4},{"f":0.529,"a":4.5e-4},{"f":0.531,"a":6.5e-4},{"f":0.533,"a":1.6e-4},{"f":0.535,"a":4e-4},{"f":0.537,"a":6e-4},{"f":0.539,"a":1.5e-4},{"f":0.541,"a":4e-4},{"f":0.543,"a":6e-4},{"f":0.545,"a":1.5e-4},{"f":0.547,"a":3.5e-4},{"f":0.549,"a":5.5e-4},{"f":0.551,"a":1.4e-4},{"f":0.553,"a":3.5e-4},{"f":0.555,"a":5.5e-4},{"f":0.557,"a":1.3e-4},{"f":0.559,"a":3e-4},{"f":0.561,"a":5e-4},{"f":0.563,"a":1.2e-4},{"f":0.565,"a":3e-4},{"f":0.567,"a":5e-4},{"f":0.569,"a":1.2e-4},{"f":0.571,"a":3e-4},{"f":0.573,"a":4.5e-4},{"f":0.575,"a":1.1e-4},{"f":0.577,"a":2.8e-4},{"f":0.579,"a":4.5e-4},{"f":0.581,"a":1e-4},{"f":0.583,"a":2.8e-4},{"f":0.585,"a":4.5e-4},{"f":0.587,"a":1e-4},{"f":0.589,"a":2.5e-4},{"f":0.591,"a":4e-4},{"f":0.593,"a":1e-4},{"f":0.595,"a":2.5e-4},{"f":0.597,"a":4e-4},{"f":0.599,"a":0.9e-4},
    {"f":0.601,"a":2.5e-4},{"f":0.603,"a":4e-4},{"f":0.605,"a":0.9e-4},{"f":0.607,"a":2.2e-4},{"f":0.609,"a":3.8e-4},{"f":0.611,"a":0.8e-4},{"f":0.613,"a":2.2e-4},{"f":0.615,"a":3.5e-4},{"f":0.617,"a":0.8e-4},{"f":0.619,"a":2e-4},{"f":0.621,"a":3.5e-4},{"f":0.623,"a":0.8e-4},{"f":0.625,"a":2e-4},{"f":0.627,"a":3.5e-4},{"f":0.629,"a":0.7e-4},{"f":0.631,"a":2e-4},{"f":0.633,"a":3.5e-4},{"f":0.635,"a":0.8e-4},{"f":0.637,"a":2e-4},{"f":0.639,"a":3.5e-4},{"f":0.641,"a":0.8e-4},{"f":0.643,"a":2e-4},{"f":0.645,"a":3.6e-4},{"f":0.647,"a":0.8e-4},{"f":0.649,"a":2.2e-4},{"f":0.651,"a":3.8e-4},{"f":0.653,"a":0.9e-4},{"f":0.655,"a":2.2e-4},{"f":0.657,"a":4e-4},{"f":0.659,"a":0.9e-4},{"f":0.661,"a":2.4e-4},{"f":0.663,"a":4e-4},{"f":0.665,"a":1e-4},{"f":0.667,"a":2.5e-4},{"f":0.669,"a":4.2e-4},{"f":0.671,"a":1e-4},{"f":0.673,"a":2.5e-4},{"f":0.675,"a":4.5e-4},{"f":0.677,"a":1.1e-4},{"f":0.679,"a":2.8e-4},{"f":0.681,"a":4.5e-4},{"f":0.683,"a":1.2e-4},{"f":0.685,"a":2.8e-4},{"f":0.687,"a":5e-4},{"f":0.689,"a":1.2e-4},{"f":0.691,"a":3e-4},{"f":0.693,"a":5e-4},{"f":0.695,"a":1.3e-4},{"f":0.697,"a":3e-4},{"f":0.699,"a":5e-4},
    {"f":0.701,"a":1.4e-4},{"f":0.703,"a":3.5e-4},{"f":0.705,"a":5.5e-4},{"f":0.707,"a":1.5e-4},{"f":0.709,"a":3.5e-4},{"f":0.711,"a":6e-4},{"f":0.713,"a":1.5e-4},{"f":0.715,"a":3.8e-4},{"f":0.717,"a":6.5e-4},{"f":0.719,"a":1.6e-4},{"f":0.721,"a":4e-4},{"f":0.723,"a":6.5e-4},{"f":0.725,"a":1.7e-4},{"f":0.727,"a":4e-4},{"f":0.729,"a":7e-4},{"f":0.731,"a":1.8e-4},{"f":0.733,"a":4.2e-4},{"f":0.735,"a":7e-4},{"f":0.737,"a":1.8e-4},{"f":0.739,"a":4.5e-4},{"f":0.741,"a":7.5e-4},{"f":0.743,"a":2e-4},{"f":0.745,"a":4.5e-4},{"f":0.747,"a":7.5e-4},{"f":0.749,"a":2e-4},{"f":0.751,"a":4.5e-4},{"f":0.753,"a":8e-4},{"f":0.755,"a":2e-4},{"f":0.757,"a":4.5e-4},{"f":0.759,"a":8e-4},{"f":0.761,"a":2e-4},{"f":0.763,"a":5e-4},{"f":0.765,"a":8e-4},{"f":0.767,"a":2e-4},{"f":0.769,"a":4.5e-4},{"f":0.771,"a":8e-4},{"f":0.773,"a":2e-4},{"f":0.775,"a":5e-4},{"f":0.777,"a":8.5e-4},{"f":0.779,"a":2e-4},{"f":0.781,"a":4.5e-4},{"f":0.783,"a":8e-4},{"f":0.785,"a":2e-4},{"f":0.787,"a":4.5e-4},{"f":0.789,"a":7.5e-4},{"f":0.791,"a":1.8e-4},{"f":0.793,"a":4.5e-4},{"f":0.795,"a":7.5e-4},{"f":0.797,"a":1.8e-4},{"f":0.799,"a":4.5e-4},
    {"f":0.801,"a":7e-4},{"f":0.803,"a":1.8e-4},{"f":0.805,"a":4e-4},{"f":0.807,"a":6.5e-4},{"f":0.809,"a":1.6e-4},{"f":0.811,"a":4e-4},{"f":0.813,"a":6.5e-4},{"f":0.815,"a":1.5e-4},{"f":0.817,"a":3.8e-4},{"f":0.819,"a":6e-4},{"f":0.821,"a":1.4e-4},{"f":0.823,"a":3.5e-4},{"f":0.825,"a":6e-4},{"f":0.827,"a":1.4e-4},{"f":0.829,"a":3.5e-4},{"f":0.831,"a":5.5e-4},{"f":0.833,"a":1.3e-4},{"f":0.835,"a":3.2e-4},{"f":0.837,"a":5.5e-4},{"f":0.839,"a":1.2e-4},{"f":0.841,"a":3e-4},{"f":0.843,"a":5e-4},{"f":0.845,"a":1.2e-4},{"f":0.847,"a":3e-4},{"f":0.849,"a":5e-4},{"f":0.851,"a":1.1e-4},{"f":0.853,"a":2.8e-4},{"f":0.855,"a":4.5e-4},{"f":0.857,"a":1e-4},{"f":0.859,"a":2.5e-4},{"f":0.861,"a":4.5e-4},{"f":0.863,"a":1e-4},{"f":0.865,"a":2.5e-4},{"f":0.867,"a":4e-4},{"f":0.869,"a":0.9e-4},{"f":0.871,"a":2.3e-4},{"f":0.873,"a":4e-4},{"f":0.875,"a":0.9e-4},{"f":0.877,"a":2.2e-4},{"f":0.879,"a":3.8e-4},{"f":0.881,"a":0.9e-4},{"f":0.883,"a":2.2e-4},{"f":0.885,"a":3.8e-4},{"f":0.887,"a":0.8e-4},{"f":0.889,"a":2e-4},{"f":0.891,"a":3.5e-4},{"f":0.893,"a":0.8e-4},{"f":0.895,"a":2e-4},{"f":0.897,"a":3.5e-4},{"f":0.899,"a":0.8e-4},
    {"f":0.901,"a":2e-4},{"f":0.903,"a":3.5e-4},{"f":0.905,"a":0.8e-4},{"f":0.907,"a":2e-4},{"f":0.909,"a":3.5e-4},{"f":0.911,"a":0.8e-4},{"f":0.913,"a":2e-4},{"f":0.915,"a":3.4e-4},{"f":0.917,"a":0.8e-4},{"f":0.919,"a":2e-4},{"f":0.921,"a":3.5e-4},{"f":0.923,"a":0.8e-4},{"f":0.925,"a":2e-4},{"f":0.927,"a":3.5e-4},{"f":0.929,"a":0.8e-4},{"f":0.931,"a":2e-4},{"f":0.933,"a":3.6e-4},{"f":0.935,"a":0.9e-4},{"f":0.937,"a":2.2e-4},{"f":0.939,"a":3.8e-4},{"f":0.941,"a":0.9e-4},{"f":0.943,"a":2.2e-4},{"f":0.945,"a":4e-4},{"f":0.947,"a":0.9e-4},{"f":0.949,"a":2.4e-4},{"f":0.951,"a":4e-4},{"f":0.953,"a":1e-4},{"f":0.955,"a":2.5e-4},{"f":0.957,"a":4.2e-4},{"f":0.959,"a":1e-4},{"f":0.961,"a":2.5e-4},{"f":0.963,"a":4.5e-4},{"f":0.965,"a":1.1e-4},{"f":0.967,"a":2.6e-4},{"f":0.969,"a":4.5e-4},{"f":0.971,"a":1.1e-4},{"f":0.973,"a":2.8e-4},{"f":0.975,"a":4.6e-4},{"f":0.977,"a":1.1e-4},{"f":0.979,"a":2.8e-4},{"f":0.981,"a":4.8e-4},{"f":0.983,"a":1.2e-4},{"f":0.985,"a":3e-4},{"f":0.987,"a":5e-4},{"f":0.989,"a":1.2e-4},{"f":0.991,"a":3e-4},{"f":0.993,"a":5e-4},{"f":0.995,"a":1.2e-4},{"f":0.997,"a":3e-4},{"f":0.999,"a":5e-4},
    {"f":1.001,"a":1.3e-4},{"f":1.003,"a":3.2e-4},{"f":1.005,"a":5.5e-4},{"f":1.007,"a":1.3e-4},{"f":1.009,"a":3.2e-4},{"f":1.011,"a":5.5e-4},{"f":1.013,"a":1.4e-4},{"f":1.015,"a":3.4e-4},{"f":1.017,"a":6e-4},{"f":1.019,"a":1.4e-4},{"f":1.021,"a":3.4e-4},{"f":1.023,"a":6e-4},{"f":1.025,"a":1.5e-4},{"f":1.027,"a":3.5e-4},{"f":1.029,"a":6e-4},{"f":1.031,"a":1.5e-4},{"f":1.033,"a":3.5e-4},{"f":1.035,"a":6.5e-4},{"f":1.037,"a":1.5e-4},{"f":1.039,"a":3.6e-4},{"f":1.041,"a":6e-4},{"f":1.043,"a":1.5e-4},{"f":1.045,"a":3.5e-4},{"f":1.047,"a":6.5e-4},{"f":1.049,"a":1.6e-4},{"f":1.051,"a":3.6e-4},{"f":1.053,"a":6.5e-4},{"f":1.055,"a":1.6e-4},{"f":1.057,"a":3.8e-4},{"f":1.059,"a":6.5e-4},{"f":1.061,"a":1.6e-4},{"f":1.063,"a":3.8e-4},{"f":1.065,"a":7e-4},{"f":1.067,"a":1.6e-4},{"f":1.069,"a":3.8e-4},{"f":1.071,"a":6.5e-4},{"f":1.073,"a":1.6e-4},{"f":1.075,"a":3.8e-4},{"f":1.077,"a":7e-4},{"f":1.079,"a":1.6e-4},{"f":1.081,"a":3.8e-4},{"f":1.083,"a":6.5e-4},{"f":1.085,"a":1.6e-4},{"f":1.087,"a":3.8e-4},{"f":1.089,"a":7e-4},{"f":1.091,"a":1.6e-4},{"f":1.093,"a":3.8e-4},{"f":1.095,"a":6.5e-4},{"f":1.097,"a":1.6e-4},{"f":1.099,"a":3.8e-4},
    {"f":1.101,"a":6.5e-4},{"f":1.103,"a":1.6e-4},{"f":1.105,"a":3.8e-4},{"f":1.107,"a":7e-4},{"f":1.109,"a":1.7e-4},{"f":1.111,"a":4e-4},{"f":1.113,"a":6.5e-4},{"f":1.115,"a":1.6e-4},{"f":1.117,"a":3.8e-4},{"f":1.119,"a":7e-4},{"f":1.121,"a":1.6e-4},{"f":1.123,"a":3.8e-4},{"f":1.125,"a":6.5e-4},{"f":1.127,"a":1.6e-4},{"f":1.129,"a":4e-4},{"f":1.131,"a":7e-4},{"f":1.133,"a":1.6e-4},{"f":1.135,"a":3.8e-4},{"f":1.137,"a":6.5e-4},{"f":1.139,"a":1.5e-4},{"f":1.141,"a":3.6e-4},{"f":1.143,"a":6.5e-4},{"f":1.145,"a":1.5e-4},{"f":1.147,"a":3.6e-4},{"f":1.149,"a":6e-4},{"f":1.151,"a":1.5e-4},{"f":1.153,"a":3.6e-4},{"f":1.155,"a":6.5e-4},{"f":1.157,"a":1.5e-4},{"f":1.159,"a":3.5e-4},{"f":1.161,"a":6e-4},{"f":1.163,"a":1.5e-4},{"f":1.165,"a":3.5e-4},{"f":1.167,"a":6e-4},{"f":1.169,"a":1.4e-4},{"f":1.171,"a":3.4e-4},{"f":1.173,"a":6e-4},{"f":1.175,"a":1.4e-4},{"f":1.177,"a":3.4e-4},{"f":1.179,"a":5.5e-4},{"f":1.181,"a":1.4e-4},{"f":1.183,"a":3.2e-4},{"f":1.185,"a":5.5e-4},{"f":1.187,"a":1.3e-4},{"f":1.189,"a":3.2e-4},{"f":1.191,"a":5.5e-4},{"f":1.193,"a":1.3e-4},{"f":1.195,"a":3e-4},{"f":1.197,"a":5.5e-4},{"f":1.199,"a":1.3e-4},
    {"f":1.201,"a":3e-4},{"f":1.203,"a":5.5e-4},{"f":1.205,"a":1.3e-4},{"f":1.207,"a":3e-4},{"f":1.209,"a":5e-4},{"f":1.211,"a":1.2e-4},{"f":1.213,"a":3e-4},{"f":1.215,"a":5e-4},{"f":1.217,"a":1.2e-4},{"f":1.219,"a":2.8e-4},{"f":1.221,"a":5e-4},{"f":1.223,"a":1.2e-4},{"f":1.225,"a":2.8e-4},{"f":1.227,"a":4.8e-4},{"f":1.229,"a":1.1e-4},{"f":1.231,"a":2.8e-4},{"f":1.233,"a":4.8e-4},{"f":1.235,"a":1.1e-4},{"f":1.237,"a":2.6e-4},{"f":1.239,"a":4.6e-4},{"f":1.241,"a":1.1e-4},{"f":1.243,"a":2.6e-4},{"f":1.245,"a":4.5e-4},{"f":1.247,"a":1.1e-4},{"f":1.249,"a":2.6e-4},{"f":1.251,"a":4.5e-4},{"f":1.253,"a":1.1e-4},{"f":1.255,"a":2.6e-4},{"f":1.257,"a":4.5e-4},{"f":1.259,"a":1.1e-4},{"f":1.261,"a":2.6e-4},{"f":1.263,"a":4.6e-4},{"f":1.265,"a":1.1e-4},{"f":1.267,"a":2.6e-4},{"f":1.269,"a":4.6e-4},{"f":1.271,"a":1.1e-4},{"f":1.273,"a":2.6e-4},{"f":1.275,"a":4.6e-4},{"f":1.277,"a":1.1e-4},{"f":1.279,"a":2.6e-4},{"f":1.281,"a":4.5e-4},{"f":1.283,"a":1.1e-4},{"f":1.285,"a":2.6e-4},{"f":1.287,"a":4.5e-4},{"f":1.289,"a":1.1e-4},{"f":1.291,"a":2.6e-4},{"f":1.293,"a":4.5e-4},{"f":1.295,"a":1.1e-4},{"f":1.297,"a":2.6e-4},{"f":1.299,"a":4.6e-4},
    {"f":1.301,"a":1.1e-4},{"f":1.303,"a":2.6e-4},{"f":1.305,"a":4.6e-4},{"f":1.307,"a":1.1e-4},{"f":1.309,"a":2.7e-4},{"f":1.311,"a":4.7e-4},{"f":1.313,"a":1.2e-4},{"f":1.315,"a":2.7e-4},{"f":1.317,"a":4.8e-4},{"f":1.319,"a":1.2e-4},{"f":1.321,"a":2.8e-4},{"f":1.323,"a":4.8e-4},{"f":1.325,"a":1.2e-4},{"f":1.327,"a":2.8e-4},{"f":1.329,"a":5e-4},{"f":1.331,"a":1.2e-4},{"f":1.333,"a":2.9e-4},{"f":1.335,"a":5e-4},{"f":1.337,"a":1.2e-4},{"f":1.339,"a":3e-4},{"f":1.341,"a":5e-4},{"f":1.343,"a":1.3e-4},{"f":1.345,"a":3e-4},{"f":1.347,"a":5.2e-4},{"f":1.349,"a":1.3e-4},{"f":1.351,"a":3e-4},{"f":1.353,"a":5.2e-4},{"f":1.355,"a":1.3e-4},{"f":1.357,"a":3.1e-4},{"f":1.359,"a":5.4e-4},{"f":1.361,"a":1.3e-4},{"f":1.363,"a":3.2e-4},{"f":1.365,"a":5.5e-4},{"f":1.367,"a":1.4e-4},{"f":1.369,"a":3.2e-4},{"f":1.371,"a":5.5e-4},{"f":1.373,"a":1.4e-4},{"f":1.375,"a":3.3e-4},{"f":1.377,"a":5.6e-4},{"f":1.379,"a":1.4e-4},{"f":1.381,"a":3.4e-4},{"f":1.383,"a":5.8e-4},{"f":1.385,"a":1.4e-4},{"f":1.387,"a":3.4e-4},{"f":1.389,"a":5.8e-4},{"f":1.391,"a":1.5e-4},{"f":1.393,"a":3.5e-4},{"f":1.395,"a":6e-4},{"f":1.397,"a":1.5e-4},{"f":1.399,"a":3.5e-4},
    {"f":1.401,"a":6e-4},{"f":1.403,"a":1.5e-4},{"f":1.405,"a":3.6e-4},{"f":1.407,"a":6.2e-4},{"f":1.409,"a":1.6e-4},{"f":1.411,"a":3.8e-4},{"f":1.413,"a":6.5e-4},{"f":1.415,"a":1.6e-4},{"f":1.417,"a":3.8e-4},{"f":1.419,"a":6.5e-4},{"f":1.421,"a":1.7e-4},{"f":1.423,"a":4e-4},{"f":1.425,"a":6.8e-4},{"f":1.427,"a":1.7e-4},{"f":1.429,"a":4e-4},{"f":1.431,"a":7e-4},{"f":1.433,"a":1.8e-4},{"f":1.435,"a":4e-4},{"f":1.437,"a":7e-4},{"f":1.439,"a":1.8e-4},{"f":1.441,"a":4e-4},{"f":1.443,"a":7e-4},{"f":1.445,"a":1.8e-4},{"f":1.447,"a":4e-4},{"f":1.449,"a":7e-4},{"f":1.451,"a":1.8e-4},{"f":1.453,"a":4e-4},{"f":1.455,"a":7e-4},{"f":1.457,"a":1.8e-4},{"f":1.459,"a":4e-4},{"f":1.461,"a":6.5e-4},{"f":1.463,"a":1.7e-4},{"f":1.465,"a":3.8e-4},{"f":1.467,"a":5e-4}
  ]},
  "mark": {"type": "line", "color": "#ff0000", "strokeWidth": 1.4, "clip": true},
  "encoding": {
    "x": {
      "field": "f", "type": "quantitative", "sort": "ascending",
      "scale": {"domain": [0, 1.5], "nice": false, "zero": false},
      "axis": {
        "title": "Frequência (Hz)",
        "titleFont": "DejaVu Sans", "titleFontSize": 17, "titleFontWeight": "bold", "titleColor": "#000000",
        "titlePadding": 7,
        "values": [0, 0.1, 0.2, 0.3, 0.4, 0.5, 0.6, 0.7, 0.8, 0.9, 1, 1.1, 1.2, 1.3, 1.4, 1.5],
        "labelExpr": "datum.value == 0 ? '0' : datum.value == 0.5 ? '0.5' : datum.value == 1 ? '1' : datum.value == 1.5 ? '1.5' : ''",
        "labelFont": "Liberation Sans", "labelFontSize": 17, "labelColor": "#000000",
        "labelPadding": 8, "labelFlush": false, "labelOverlap": false, "labelBound": false,
        "domainColor": "#000000", "domainWidth": 1.5,
        "tickColor": {"condition": {"test": "datum.value == 0 || datum.value == 0.5 || datum.value == 1 || datum.value == 1.5", "value": "#000000"}, "value": "#333333"},
        "tickSize": {"condition": {"test": "datum.value == 0 || datum.value == 0.5 || datum.value == 1 || datum.value == 1.5", "value": 10}, "value": 6},
        "tickWidth": 1.2,
        "grid": true,
        "gridColor": {"condition": {"test": "datum.value == 0.5 || datum.value == 1", "value": "#0000ff"}, "value": "#b4b4b4"},
        "gridDash": {"condition": {"test": "datum.value == 0.5 || datum.value == 1", "value": []}, "value": [1, 2]},
        "gridOpacity": {"condition": {"test": "datum.value == 0 || datum.value == 1.5", "value": 0}, "value": 1},
        "gridWidth": 1
      }
    },
    "y": {
      "field": "a", "type": "quantitative",
      "scale": {"type": "log", "domain": [0.00001, 1], "nice": false},
      "axis": {
        "title": "Amplitude\u00a0 (nT)",
        "titleFont": "DejaVu Sans", "titleFontSize": 20.5, "titleFontWeight": "bold", "titleColor": "#000000",
        "titleAngle": -90, "titleBaseline": "middle", "titleAlign": "center",
        "titleX": -71, "titleY": 305,
        "values": [0.00001, 0.00002, 0.00004, 0.00006, 0.00008, 0.0001, 0.0002, 0.0004, 0.0006, 0.0008, 0.001, 0.002, 0.004, 0.006, 0.008, 0.01, 0.02, 0.04, 0.06, 0.08, 0.1, 0.2, 0.4, 0.6, 0.8, 1],
        "labelExpr": "datum.value == 1 ? '1' : datum.value == 0.1 ? '0.1' : datum.value == 0.01 ? '0.01' : datum.value == 0.001 ? '0.001' : datum.value == 0.0001 ? '0.0001' : datum.value == 0.00001 ? '1e-05' : ''",
        "labelFont": "Liberation Sans", "labelFontSize": 17, "labelColor": "#000000",
        "labelPadding": 8, "labelOverlap": false, "labelBound": false, "labelFlush": false,
        "domainColor": "#555555", "domainWidth": 2,
        "tickColor": "#333333",
        "tickSize": {"condition": {"test": "datum.value == 1 || datum.value == 0.1 || datum.value == 0.01 || datum.value == 0.001 || datum.value == 0.0001 || datum.value == 0.00001", "value": 8}, "value": 5},
        "tickWidth": 1.2,
        "grid": true,
        "gridColor": {"condition": {"test": "datum.value == 0.1 || datum.value == 0.01 || datum.value == 0.001 || datum.value == 0.0001", "value": "#0000ff"}, "value": "#b4b4b4"},
        "gridDash": {"condition": {"test": "datum.value == 0.1 || datum.value == 0.01 || datum.value == 0.001 || datum.value == 0.0001", "value": []}, "value": [1, 2]},
        "gridOpacity": {"condition": {"test": "datum.value == 1 || datum.value == 0.00001", "value": 0}, "value": 1},
        "gridWidth": 1
      }
    }
  }
}
